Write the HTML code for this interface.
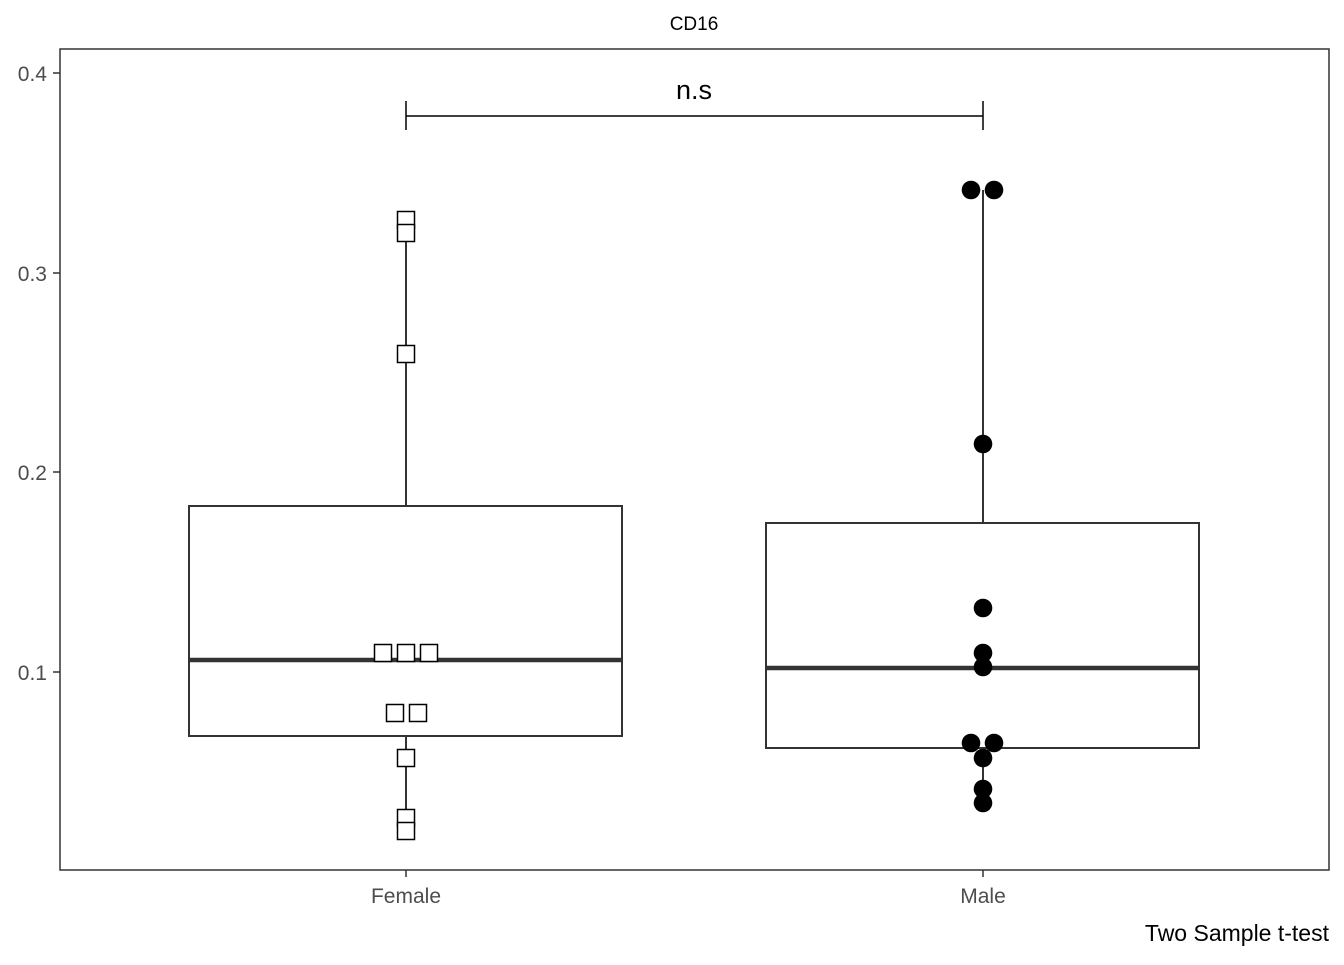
<!DOCTYPE html>
<html><head><style>body{margin:0;background:#fff}</style></head><body>
<svg width="1344" height="960" xmlns="http://www.w3.org/2000/svg" font-family="Liberation Sans, sans-serif">
<rect width="1344" height="960" fill="#fff"/>
<text x="694" y="30" font-size="19" text-anchor="middle">CD16</text>
<rect x="60" y="49" width="1269" height="821" fill="none" stroke="#333" stroke-width="1.5"/>
<g stroke="#333" stroke-width="1.5">
<line x1="53" y1="73" x2="60" y2="73"/><line x1="53" y1="273" x2="60" y2="273"/>
<line x1="53" y1="472" x2="60" y2="472"/><line x1="53" y1="672" x2="60" y2="672"/>
<line x1="406" y1="870" x2="406" y2="877"/><line x1="983" y1="870" x2="983" y2="877"/>
</g>
<g font-size="21" fill="#4d4d4d" text-anchor="end">
<text x="47" y="81">0.4</text><text x="47" y="281">0.3</text><text x="47" y="480">0.2</text><text x="47" y="680">0.1</text>
</g>
<g font-size="21" fill="#4d4d4d" text-anchor="middle">
<text x="406" y="903">Female</text><text x="983" y="903">Male</text>
</g>
<text x="1329" y="941" font-size="23" text-anchor="end">Two Sample t-test</text>
<g stroke="#333" stroke-width="2" fill="none">
<line x1="406" y1="220" x2="406" y2="506"/><line x1="406" y1="736" x2="406" y2="831"/>
<rect x="189" y="506" width="433" height="230"/>
<line x1="983" y1="190" x2="983" y2="523"/><line x1="983" y1="748" x2="983" y2="803"/>
<rect x="766" y="523" width="433" height="225"/>
</g>
<line x1="189" y1="660" x2="622" y2="660" stroke="#333" stroke-width="4.5"/>
<line x1="766" y1="668" x2="1199" y2="668" stroke="#333" stroke-width="4.5"/>
<g stroke="#000" stroke-width="1.5">
<line x1="406" y1="116" x2="983" y2="116"/><line x1="406" y1="101" x2="406" y2="130"/><line x1="983" y1="101" x2="983" y2="130"/>
</g>
<text x="694" y="99" font-size="27" text-anchor="middle">n.s</text>
<g fill="#fff" stroke="#000" stroke-width="1.5">
<rect x="397.5" y="211.5" width="17" height="17"/><rect x="397.5" y="224.5" width="17" height="17"/>
<rect x="397.5" y="345.5" width="17" height="17"/>
<rect x="374.5" y="644.5" width="17" height="17"/><rect x="397.5" y="644.5" width="17" height="17"/><rect x="420.5" y="644.5" width="17" height="17"/>
<rect x="386.5" y="704.5" width="17" height="17"/><rect x="409.5" y="704.5" width="17" height="17"/>
<rect x="397.5" y="749.5" width="17" height="17"/>
<rect x="397.5" y="809.5" width="17" height="17"/><rect x="397.5" y="822.5" width="17" height="17"/>
</g>
<g fill="#000">
<circle cx="971" cy="190" r="9.3"/><circle cx="994" cy="190" r="9.3"/><circle cx="983" cy="444" r="9.3"/>
<circle cx="983" cy="608" r="9.3"/><circle cx="983" cy="653" r="9.3"/><circle cx="983" cy="667" r="9.3"/>
<circle cx="971" cy="743" r="9.3"/><circle cx="994" cy="743" r="9.3"/><circle cx="983" cy="758" r="9.3"/>
<circle cx="983" cy="789" r="9.3"/><circle cx="983" cy="803" r="9.3"/>
</g>
</svg>
</body></html>
